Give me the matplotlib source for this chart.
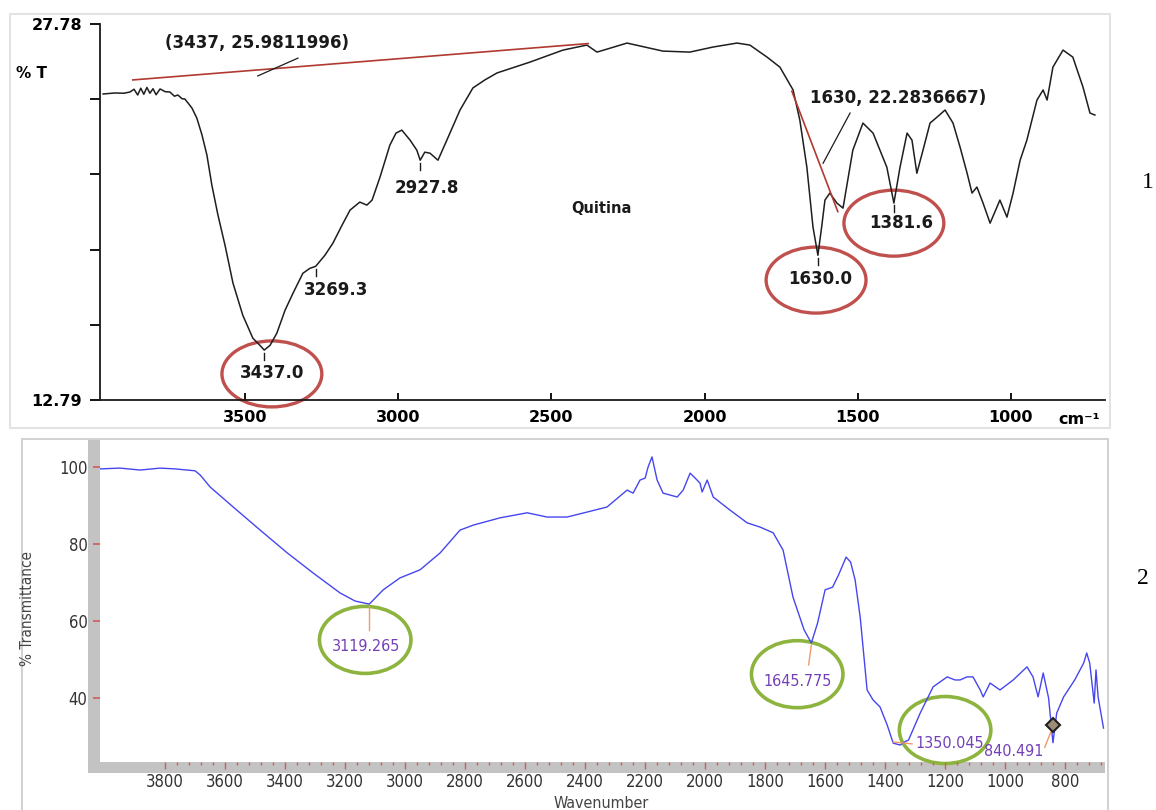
import numpy as np
import matplotlib
matplotlib.use("Agg")
import matplotlib.pyplot as plt
from matplotlib import font_manager
from matplotlib.font_manager import FontProperties
from matplotlib.patches import Ellipse, Rectangle

W, H = 1156, 810

# Spectrum 1 (quitina): wavenumber (cm-1) and %T
WN_1 = [3963, 3924, 3895, 3875, 3862, 3850, 3840, 3830, 3820, 3810, 3800, 3790, 3777, 3760,
        3745, 3730, 3719, 3705, 3696, 3685, 3673, 3657, 3640, 3624, 3608, 3588, 3565, 3539,
        3507, 3474, 3451, 3437, 3418, 3396, 3369, 3343, 3311, 3288, 3269, 3239, 3213, 3183,
        3157, 3125, 3102, 3085, 3059, 3027, 3007, 2988, 2961, 2939, 2928, 2913, 2896, 2870,
        2841, 2798, 2756, 2717, 2677, 2570, 2462, 2384, 2351, 2318, 2253, 2136, 2048, 1973,
        1894, 1852, 1796, 1754, 1711, 1689, 1666, 1646, 1630, 1617, 1607, 1591, 1568, 1548,
        1516, 1483, 1450, 1405, 1382, 1362, 1339, 1323, 1307, 1287, 1264, 1241, 1215, 1189,
        1166, 1143, 1127, 1111, 1091, 1068, 1036, 1013, 993, 970, 948, 915, 895, 882, 863,
        830, 798, 765, 742, 726]
T_1 = [24.99, 25.03, 25.02, 25.07, 25.18, 24.95, 25.22, 24.98, 25.25, 25.02, 25.20, 24.96,
       25.19, 25.08, 25.07, 24.90, 24.95, 24.80, 24.79, 24.62, 24.43, 24.03, 23.35, 22.55,
       21.36, 20.16, 18.96, 17.45, 16.17, 15.25, 14.97, 14.78, 14.97, 15.45, 16.37, 17.05,
       17.84, 18.04, 18.12, 18.56, 19.04, 19.76, 20.36, 20.68, 20.56, 20.76, 21.68, 22.95,
       23.43, 23.55, 23.15, 22.75, 22.35, 22.67, 22.63, 22.35, 23.15, 24.35, 25.23, 25.55,
       25.83, 26.26, 26.74, 26.94, 26.66, 26.78, 27.02, 26.70, 26.66, 26.86, 27.02, 26.94,
       26.46, 26.06, 25.15, 23.95, 22.07, 19.68, 18.56, 19.76, 20.76, 21.04, 20.64, 20.44,
       22.75, 23.83, 23.43, 22.07, 20.64, 22.07, 23.43, 23.15, 21.83, 22.75, 23.83, 24.07,
       24.35, 23.83, 22.87, 21.83, 21.04, 21.28, 20.64, 19.84, 20.76, 20.08, 21.04, 22.35,
       23.15, 24.75, 25.15, 24.75, 26.06, 26.74, 26.46, 25.27, 24.23, 24.15]

PEAKS_1 = [3437.0, 3269.3, 2927.8, 1630.0, 1381.6]
PEAK_LABELS_1 = ["3437.0", "3269.3", "2927.8", "1630.0", "1381.6"]
PEAK_TEXT_WN_1 = [3412, 3201, 2906, 1624, 1357]
PEAK_TEXT_T_1 = [13.86, 17.17, 21.24, 17.61, 19.84]
CIRCLED_1 = [(3412, 13.83), (1636, 17.57), (1382, 19.84)]

# baselines used for the two band-depth readouts
BASE_A_WN, BASE_A_T = [3866, 2380], [25.55, 27.0]
BASE_B_WN, BASE_B_T = [1715, 1565], [25.1, 20.3]

X_TICKS_1 = [3500, 3000, 2500, 2000, 1500, 1000]
Y_MIN_1, Y_MAX_1 = 12.79, 27.78

# Spectrum 2: wavenumber and % transmittance
WN_2 = [4017, 3950, 3883, 3817, 3767, 3727, 3700, 3683, 3650, 3573, 3483, 3393, 3307, 3217,
        3167, 3119.265, 3073, 3017, 2950, 2883, 2817, 2773, 2683, 2593, 2527, 2460, 2393,
        2327, 2260, 2240, 2217, 2200, 2190, 2177, 2160, 2140, 2093, 2073, 2050, 2033, 2017,
        2010, 1993, 1973, 1917, 1860, 1817, 1773, 1740, 1707, 1670, 1645.775, 1625, 1600,
        1575, 1555, 1530, 1515, 1500, 1483, 1460, 1440, 1417, 1393, 1373, 1350.045, 1335,
        1322, 1283, 1240, 1193, 1167, 1150, 1127, 1107, 1083, 1073, 1050, 1017, 973, 927,
        907, 890, 873, 855, 840.491, 828, 805, 768, 738, 728, 718, 703, 697, 690, 672]
T_2 = [99.5, 99.7, 99.2, 99.7, 99.5, 99.2, 99.0, 97.9, 94.8, 89.6, 83.6, 77.7, 72.5, 67.3,
       65.2, 64.4, 68.1, 71.2, 73.3, 77.7, 83.6, 84.9, 86.8, 88.1, 87.0, 87.0, 88.3, 89.6,
       94.0, 93.2, 96.6, 97.1, 100.0, 102.6, 96.6, 93.2, 92.2, 94.0, 98.4, 97.1, 95.8, 93.5,
       96.6, 92.2, 88.8, 85.5, 84.4, 82.9, 78.4, 66.2, 57.7, 54.3, 59.5, 68.1, 68.8, 72.0,
       76.6, 75.3, 70.7, 61.0, 42.1, 39.5, 37.7, 33.0, 28.3, 27.8, 28.6, 29.1, 36.1, 42.9,
       45.5, 44.7, 44.7, 45.5, 45.5, 42.1, 40.3, 43.9, 42.1, 44.7, 48.1, 45.5, 40.3, 46.5,
       40.0, 28.4, 36.1, 40.3, 44.7, 49.1, 51.7, 49.1, 38.7, 47.3, 40.3, 32.2]

PEAKS_2 = [3119.265, 1645.775, 1350.045, 840.491]
PEAK_LABELS_2 = ["3119.265", "1645.775", "1350.045", "840.491"]
PEAK_TEXT_2 = [(3130, 53.3, "center"), (1693, 44.2, "center"), (1300, 28.3, "left"),
               (1070, 26.0, "left")]
CIRCLED_2 = [(3133, 55.1), (1693, 46.2), (1200, 31.7)]
LEADERS_2 = [((3119.265, 63.9), (3119.265, 57.7)), ((1645.775, 53.8), (1655, 48.6)),
             ((1373, 28.6), (1310, 28.1)), ((868, 27.2), (846, 31.5))]
PICK_2 = (840.491, 33.0)

X_MAJOR_2 = np.arange(3800, 799, -200)
X_MINOR_2 = np.arange(3800, 660, -40)
Y_TICKS_2 = [100, 80, 60, 40]

# narrow face for the instrument-style panel, best available
_fonts = font_manager.fontManager.ttflist
if any(f.name == "Liberation Sans Narrow" for f in _fonts):
    NARROW = dict(family="Liberation Sans Narrow")
elif any(f.name == "DejaVu Sans" and f.stretch == "condensed" for f in _fonts):
    NARROW = dict(family="DejaVu Sans", stretch="condensed")
else:
    NARROW = dict(family="Liberation Sans")
SERIF = "Liberation Serif" if any(f.name == "Liberation Serif" for f in _fonts) else "DejaVu Serif"


def narrow(size):
    return FontProperties(size=size, **NARROW)


def fig_box(x0, y0, x1, y1):
    """Pixel box (top-left origin) -> figure fraction [l, b, w, h]."""
    return [x0 / W, 1 - y1 / H, (x1 - x0) / W, (y1 - y0) / H]


def fig_pt(x, y):
    return x / W, 1 - y / H


def add_box(x0, y0, x1, y1, **kw):
    l, b, w, h = fig_box(x0, y0, x1, y1)
    fig.add_artist(Rectangle((l, b), w, h, transform=fig.transFigure, zorder=-1, **kw))


fig = plt.figure(figsize=(W / 100, H / 100), dpi=100)
fig.patch.set_facecolor("white")

# ---------------- panel 1 ----------------
add_box(10, 14, 1110, 428, fill=False, ec="#e3e3e3", lw=1.5)

ax1 = fig.add_axes(fig_box(100, 24, 1105, 400))
ax1.plot(WN_1, T_1, color="#1e1e1e", lw=1.1)
ax1.set_xlim(3973, 693)
ax1.set_ylim(Y_MIN_1, Y_MAX_1)
for s in ("top", "right"):
    ax1.spines[s].set_visible(False)
for s in ("left", "bottom"):
    ax1.spines[s].set_linewidth(1.3)
    ax1.spines[s].set_color("#1a1a1a")

ax1.set_xticks(X_TICKS_1)
ax1.set_xticklabels([str(t) for t in X_TICKS_1], fontsize=11.5, fontweight="bold")
ax1.tick_params(axis="x", direction="in", length=5, width=1.3, pad=7)
y_ticks_1 = np.linspace(Y_MIN_1, Y_MAX_1, 6)
ax1.set_yticks(y_ticks_1)
ax1.set_yticklabels([f"{Y_MIN_1:.2f}", "", "", "", "", f"{Y_MAX_1:.2f}"],
                    fontsize=11.5, fontweight="bold")
ax1.tick_params(axis="y", direction="out", length=7, width=1.3, pad=6)

# baselines and their readouts
ax1.plot(BASE_A_WN, BASE_A_T, color="#b03a30", lw=1.2)
ax1.plot(BASE_B_WN, BASE_B_T, color="#b03a30", lw=1.2)
ax1.plot([3458, 3327], [25.71, 26.42], color="#1a1a1a", lw=0.9)
ax1.plot([1613, 1525], [22.23, 24.23], color="#1a1a1a", lw=0.9)
ax1.text(3761, 27.02, "(3437, 25.9811996)", fontsize=12, fontweight="bold",
         ha="left", va="center", color="#1a1a1a")
ax1.text(1656, 24.83, "1630, 22.2836667)", fontsize=12, fontweight="bold",
         ha="left", va="center", color="#1a1a1a")

# peak picks: short tick under each band, then its label
for wn, lab, tx, ty in zip(PEAKS_1, PEAK_LABELS_1, PEAK_TEXT_WN_1, PEAK_TEXT_T_1):
    t0 = np.interp(wn, WN_1[::-1], T_1[::-1])
    ax1.plot([wn, wn], [t0 - 0.12, t0 - 0.4], color="#1a1a1a", lw=1.0)
    ax1.text(tx, ty, lab, fontsize=12, fontweight="bold", ha="center", va="center",
             color="#1a1a1a")

for cx, cy in CIRCLED_1:
    ax1.add_patch(Ellipse((cx, cy), 326, 2.63, fill=False, ec="#c0504d", lw=2.4,
                          clip_on=False))

ax1.text(2337, 20.44, "Quitina", fontsize=10.5, fontweight="bold", ha="center",
         va="center", color="#1a1a1a")

fig.text(*fig_pt(32, 73), "% T", fontsize=11, fontweight="bold", ha="center", va="center")
fig.text(*fig_pt(1058, 420), "cm⁻¹", fontsize=11.5, fontweight="bold", ha="left",
         va="center")
fig.text(*fig_pt(1148, 183), "1", fontsize=17, family=SERIF, ha="center", va="center")

# ---------------- panel 2 ----------------
add_box(22, 439, 1108, 812, fill=False, ec="#d2d2d2", lw=1.5)
add_box(88, 440, 100, 773, color="#c3c3c3", lw=0)
add_box(88, 762, 1105, 773, color="#c3c3c3", lw=0)

ax2 = fig.add_axes(fig_box(100, 440, 1105, 762))
ax2.plot(WN_2, T_2, color="#4646f0", lw=1.0)
ax2.set_xlim(4017, 667)
ax2.set_ylim(23.4, 107)
for s in ax2.spines.values():
    s.set_visible(False)

ax2.set_xticks(X_MAJOR_2)
ax2.set_xticks(X_MINOR_2, minor=True)
ax2.set_xticklabels([str(t) for t in X_MAJOR_2], fontproperties=narrow(12))
ax2.tick_params(axis="x", which="major", direction="out", length=5, width=1.0,
                color="#d65a5a", labelcolor="#333333", pad=3)
ax2.tick_params(axis="x", which="minor", direction="out", length=2, width=1.0,
                color="#d65a5a")
ax2.set_yticks(Y_TICKS_2)
ax2.set_yticklabels([str(t) for t in Y_TICKS_2], fontproperties=narrow(12))
ax2.tick_params(axis="y", direction="out", length=5, width=1.2, color="#d65a5a",
                labelcolor="#333333", pad=4)

for (x0, y0), (x1, y1) in LEADERS_2:
    ax2.plot([x0, x1], [y0, y1], color="#f09a6a", lw=1.0)

for lab, (tx, ty, ha) in zip(PEAK_LABELS_2, PEAK_TEXT_2):
    ax2.text(tx, ty, lab, fontproperties=narrow(11.5), color="#7440b8",
             ha=ha, va="center")

for cx, cy in CIRCLED_2:
    ax2.add_patch(Ellipse((cx, cy), 305, 17.4, fill=False, ec="#8db43e", lw=2.6,
                          clip_on=False))

ax2.plot(*PICK_2, marker="D", ms=7, mfc="#9c8c78", mec="#202020", mew=1.5)

fig.text(*fig_pt(28, 608), "% Transmittance", fontproperties=narrow(11),
         color="#444444", rotation=90, ha="center", va="center")
fig.text(*fig_pt(601, 803), "Wavenumber", fontproperties=narrow(11.5),
         color="#444444", ha="center", va="center")
fig.text(*fig_pt(1143, 578), "2", fontsize=17, family=SERIF, ha="center", va="center")

fig.savefig("out.png", dpi=100)
